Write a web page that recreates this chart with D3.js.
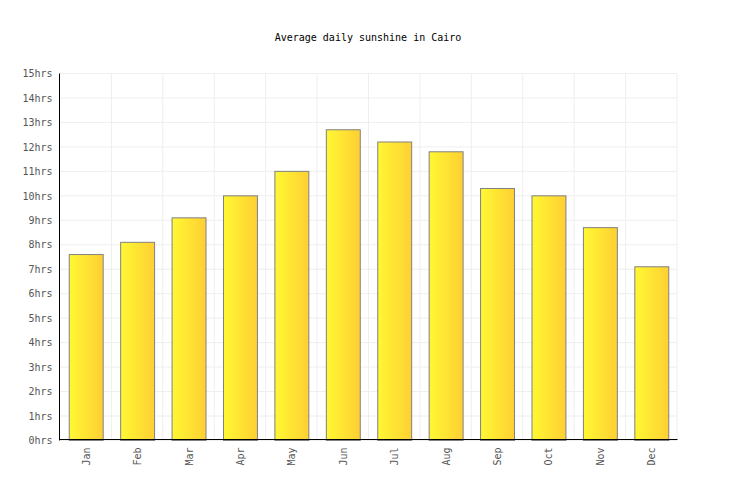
<!DOCTYPE html>
<html><head><meta charset="utf-8">
<script src="https://cdn.jsdelivr.net/npm/d3@7"></script>
<style>body{margin:0;background:#fff}</style>
</head><body>
<svg id="c" width="736" height="500"></svg>
<script>
const months = ["Jan","Feb","Mar","Apr","May","Jun","Jul","Aug","Sep","Oct","Nov","Dec"];
const sunshine = [7.6, 8.1, 9.1, 10.0, 11.0, 12.7, 12.2, 11.8, 10.3, 10.0, 8.7, 7.1];
const yTicks = [0,1,2,3,4,5,6,7,8,9,10,11,12,13,14,15];
const title = "Average daily sunshine in Cairo";

const svg = d3.select("#c");
const m = {left:60, right:677, top:73, bottom:440};
const font = "'DejaVu Sans Mono', monospace";

const x = d3.scaleBand().domain(months).range([m.left, m.right]).paddingInner(0.34).paddingOuter(0.17);
const xb = d3.scaleBand().domain(months).range([m.left, m.right]);
const y = d3.scaleLinear().domain([0,15]).range([m.bottom, m.top]);

const defs = svg.append("defs");
const g = defs.append("linearGradient").attr("id","bg").attr("x1","0").attr("x2","1").attr("y1","0").attr("y2","0");
g.append("stop").attr("offset","0").attr("stop-color","#fff833");
g.append("stop").attr("offset","1").attr("stop-color","#ffcf33");

// grid
svg.append("g").selectAll("line.h").data(yTicks).join("line")
  .attr("x1", m.left).attr("x2", m.right)
  .attr("y1", d=>y(d)+0.5).attr("y2", d=>y(d)+0.5)
  .attr("stroke","#eeeeee").attr("stroke-width",1);
svg.append("g").selectAll("line.v").data(months.slice(1).concat(["__end"])).join("line")
  .attr("x1", d=> d==="__end" ? m.right : xb(d)).attr("x2", d=> d==="__end" ? m.right : xb(d))
  .attr("y1", m.top).attr("y2", m.bottom)
  .attr("stroke","#eeeeee").attr("stroke-width",1);

// title
svg.append("text").attr("x", 368).attr("y", 41).attr("text-anchor","middle")
  .attr("font-family", font).attr("font-size", 10).attr("fill","#000").text(title);

// bars
svg.append("g").selectAll("rect").data(sunshine).join("rect")
  .attr("x", (d,i)=>x(months[i])+0.5)
  .attr("y", d=>y(d)+0.5)
  .attr("width", x.bandwidth())
  .attr("height", d=>y(0)-y(d))
  .attr("fill","url(#bg)").attr("stroke","#808080").attr("stroke-width",1);

// y axis
const yAxis = d3.axisLeft(y).tickValues(yTicks).tickFormat(d=>d+"hrs").tickSize(0).tickPadding(7);
const ya = svg.append("g").attr("transform",`translate(${m.left-0.5},0.5)`).call(yAxis);
ya.select(".domain").attr("stroke","#000").attr("d", `M0,${m.top}V${m.bottom}`);
ya.selectAll("text").attr("font-family",font).attr("font-size",10).attr("fill","#555");

// x axis
const xAxis = d3.axisBottom(x).tickSize(0).tickPadding(0);
const xa = svg.append("g").attr("transform",`translate(0.5,${m.bottom-0.5})`).call(xAxis);
xa.select(".domain").attr("stroke","#000").attr("d", `M${m.left-1},0H${m.right}`);
xa.selectAll("text").attr("font-family",font).attr("font-size",10).attr("fill","#555")
  .attr("transform","rotate(-90)").attr("text-anchor","end")
  .attr("x",-8).attr("y",0).attr("dy","0.35em");
</script>
</body></html>
